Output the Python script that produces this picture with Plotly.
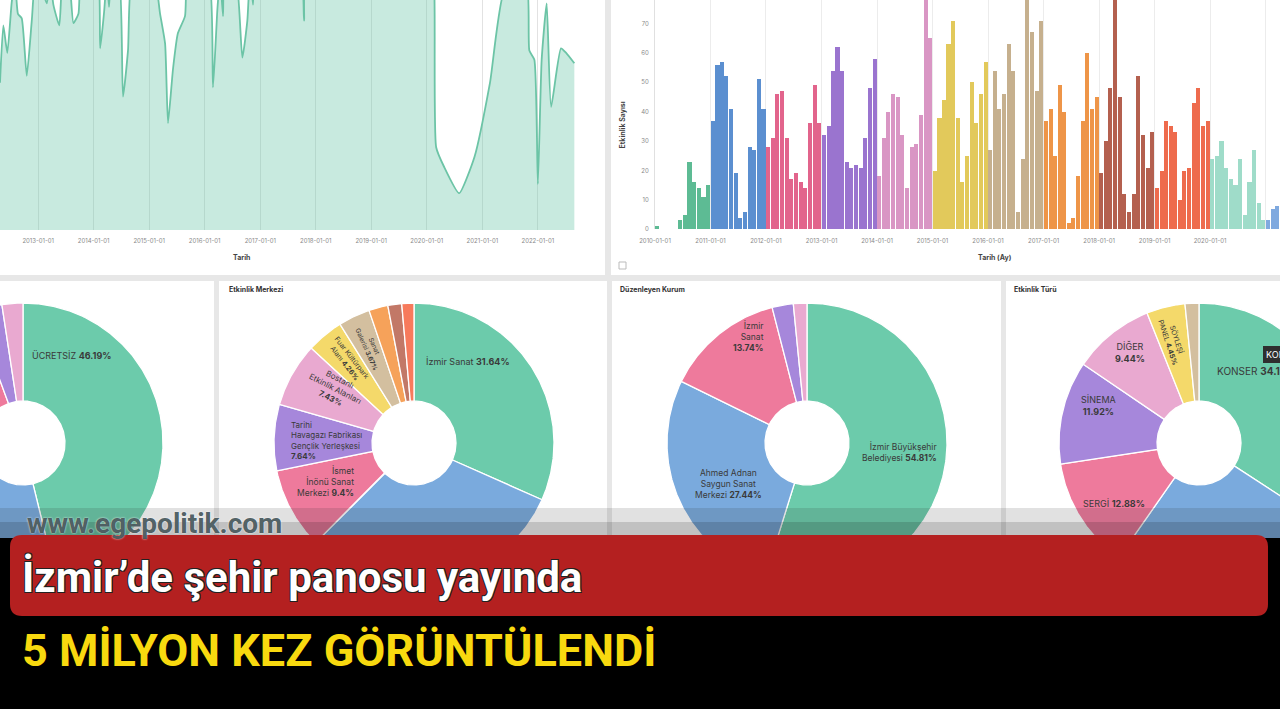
import numpy as np
import pandas as pd
import plotly.graph_objects as go

W, H = 1280, 709

# ---------------- data: area chart (top left) ----------------
AREA_DATES = ["2012-04-25","2012-05-17","2012-06-12","2012-07-11","2012-08-02","2012-08-21","2012-09-15","2012-10-18","2012-11-20","2012-12-18",
              "2013-02-27","2013-03-20","2013-04-11","2013-05-20","2013-06-16","2013-07-17","2013-08-21","2013-09-23","2013-10-17",
              "2014-01-22","2014-02-13","2014-03-11","2014-03-29","2014-04-12","2014-05-01","2014-06-13","2014-07-13","2014-08-15","2014-09-17",
              "2015-01-26","2015-03-14","2015-04-16","2015-05-05","2015-06-07","2015-07-09","2015-08-25","2015-09-16",
              "2016-01-23","2016-02-25","2016-03-25","2016-04-12","2016-05-01","2016-05-15","2016-07-19","2016-09-05","2016-10-08","2016-10-26","2016-11-14","2016-12-05",
              "2017-09-20","2017-10-16","2017-11-11",
              "2020-01-23","2020-02-19","2020-03-03","2020-04-24","2020-08-01","2020-11-11",
              "2021-02-20","2021-05-30","2021-10-16","2021-11-06","2021-12-09",
              "2022-01-01","2022-01-26","2022-02-28","2022-03-29","2022-06-02","2022-07-06","2022-08-29"]
AREA_VALUES = [64, 89, 77, 99, 108, 94, 92, 67, 91, 112,
               98.5, 110, 98, 89, 112, 112, 90, 94, 115,
               115, 79, 95, 110, 97, 112, 112, 58, 78, 112,
               112, 94, 81, 46.5, 70, 85.5, 93, 112,
               112, 62, 96, 110, 93, 112, 112, 75, 91, 112, 98, 115,
               112, 91, 115,
               115, 105, 36, 27.5, 16, 32,
               64, 105, 108, 78, 74,
               20, 74, 98.5, 53.5, 79, 77, 72.5]

# ---------------- data: monthly event counts (top right) ----------------
EVENTS_2010 = [1, 0, 0, 0, 0, 3, 5, 23, 16, 14, 11, 15]
EVENTS_2011 = [37, 56, 57, 52, 41, 19, 4, 6, 28, 27, 51, 41]
EVENTS_2012 = [28, 31, 46, 47, 31, 17, 19, 16, 14, 36, 49, 36]
EVENTS_2013 = [32, 35, 54, 62, 54, 23, 21, 22, 21, 31, 48, 58]
EVENTS_2014 = [18, 31, 40, 46, 45, 32, 14, 28, 29, 39, 96, 65]
EVENTS_2015 = [20, 38, 44, 63, 71, 38, 16, 25, 50, 36, 46, 57]
EVENTS_2016 = [27, 54, 41, 46, 63, 54, 6, 24, 92, 67, 47, 71]
EVENTS_2017 = [37, 41, 25, 49, 40, 2, 4, 18, 37, 60, 41, 45]
EVENTS_2018 = [19, 30, 48, 95, 45, 12, 6, 12, 52, 32, 21, 33]
EVENTS_2019 = [14, 20, 37, 35, 33, 10, 20, 21, 43, 48, 35, 37]
EVENTS_2020 = [24, 25, 30, 21, 17, 15, 24, 5, 16, 27, 9, 3]
EVENTS_2021 = [3, 7, 8]
EVENT_YEARS = [2010, 2011, 2012, 2013, 2014, 2015, 2016, 2017, 2018, 2019, 2020, 2021]
EVENT_SERIES = [EVENTS_2010, EVENTS_2011, EVENTS_2012, EVENTS_2013, EVENTS_2014, EVENTS_2015,
                EVENTS_2016, EVENTS_2017, EVENTS_2018, EVENTS_2019, EVENTS_2020, EVENTS_2021]

# ---------------- data: donuts ----------------
UCRET_LABELS = ["ÜCRETSİZ", "ÜCRETLİ", "BELİRSİZ", "DAVETİYELİ", "DİĞER"]
UCRET_SHARES = [46.19, 38.98, 9.22, 3.20, 2.41]

MERKEZ_LABELS = ["İzmir Sanat", "Ahmed Adnan Saygun Sanat Merkezi", "İsmet<br>İnönü Sanat<br>Merkezi",
                 "Tarihi<br>Havagazı Fabrikası<br>Gençlik Yerleşkesi", "Bostanlı<br>Etkinlik Alanları",
                 "Fuar Kültürpark<br>Alanı", "Sanat<br>Galerisi", "Açıkhava Tiyatrosu", "Alsancak", "Diğer"]
MERKEZ_SHARES = [31.64, 30.76, 9.40, 7.64, 7.43, 4.26, 3.67, 2.20, 1.60, 1.40]

KURUM_LABELS = ["İzmir Büyükşehir<br>Belediyesi", "Ahmed Adnan<br>Saygun Sanat<br>Merkezi", "İzmir<br>Sanat",
                "İzmir Devlet Tiyatrosu", "Diğer"]
KURUM_SHARES = [54.81, 27.44, 13.74, 2.45, 1.56]

TUR_LABELS = ["KONSER", "TİYATRO", "SERGİ", "SİNEMA", "DİĞER", "SÖYLEŞİ<br>PANEL", "ATÖLYE"]
TUR_SHARES = [34.18, 25.53, 12.88, 11.92, 9.44, 4.45, 1.60]

# ---------------- styles ----------------
YEAR_COLORS = ["#5dbb94", "#5b8fd0", "#e2648c", "#9a74cf", "#d996c4", "#e2c95b",
               "#c6b08e", "#ee9548", "#b4604f", "#ee6b4d", "#9fdcc9", "#7fa9df"]
PIE_COLORS = ["#6ccbab", "#7aaadd", "#ee7a9c", "#a687db", "#e9a9d0", "#f4d96a",
              "#d3bf9f", "#f6a25a", "#c27867", "#f77a5c"]
TXT = "#3a3a3a"
FONT = "Inter, Roboto, Arial"

def px(x):
    return x / W

def py(y):
    return 1 - y / H

def pct(v):
    s = f"{v:.2f}".rstrip("0").rstrip(".")
    return s + "%"

fig = go.Figure()

# ---------------- area chart ----------------
fig.add_trace(go.Scatter(
    x=pd.to_datetime(AREA_DATES), y=AREA_VALUES, mode="lines",
    line=dict(color="#6cc4a6", width=1.8, shape="spline", smoothing=0.5),
    fill="tozeroy", fillcolor="rgba(110,200,170,0.38)",
    hoverinfo="skip", xaxis="x", yaxis="y", showlegend=False))

# ---------------- bar chart ----------------
bar_x, bar_y, bar_c = [], [], []
for yr, vals, col in zip(EVENT_YEARS, EVENT_SERIES, YEAR_COLORS):
    for m, v in enumerate(vals):
        bar_x.append(pd.Timestamp(year=yr, month=m + 1, day=1) + pd.Timedelta(days=15))
        bar_y.append(v)
        bar_c.append(col)
fig.add_trace(go.Bar(
    x=bar_x, y=bar_y, marker=dict(color=bar_c, line=dict(width=0)),
    width=[27 * 86400000] * len(bar_x), hoverinfo="skip",
    xaxis="x2", yaxis="y2", showlegend=False))

# ---------------- donuts (pixel overlay axes) ----------------
R_OUT, R_IN = 140, 42

def add_donut(cx, cy, shares):
    total = float(sum(shares))
    a = 0.0
    for i, v in enumerate(shares):
        a0, a1 = a, a + v / total * 360.0
        a = a1
        n = max(3, int(a1 - a0) * 2 + 3)
        th = np.radians(np.linspace(a0, a1, n))
        xo = cx + R_OUT * np.sin(th)
        yo = cy - R_OUT * np.cos(th)
        xi = cx + R_IN * np.sin(th[::-1])
        yi = cy - R_IN * np.cos(th[::-1])
        xs = np.concatenate([xo, xi, xo[:1]])
        ys = np.concatenate([yo, yi, yo[:1]])
        fig.add_trace(go.Scatter(
            x=xs, y=ys, mode="lines", fill="toself",
            fillcolor=PIE_COLORS[i % len(PIE_COLORS)],
            line=dict(color="white", width=1.3),
            hoverinfo="skip", xaxis="x3", yaxis="y3", showlegend=False))

CENTERS = [(23, 443), (414, 443), (807, 443), (1199, 443)]
add_donut(*CENTERS[0], UCRET_SHARES)
add_donut(*CENTERS[1], MERKEZ_SHARES)
add_donut(*CENTERS[2], KURUM_SHARES)
add_donut(*CENTERS[3], TUR_SHARES)

annotations = []

def label(center, names, shares, idx, dx, dy, sep=" ", angle=0, align="center",
          xanchor="center", size=8.5):
    cx, cy = center
    annotations.append(dict(
        x=cx + dx, y=cy + dy, xref="x3", yref="y3", showarrow=False,
        text=f"{names[idx]}{sep}<b>{pct(shares[idx])}</b>", textangle=angle,
        align=align, xanchor=xanchor, yanchor="middle",
        font=dict(family=FONT, size=size, color=TXT)))

# panel 1
label(CENTERS[0], UCRET_LABELS, UCRET_SHARES, 0, 48, -88, size=9)
label(CENTERS[0], UCRET_LABELS, UCRET_SHARES, 1, -45, 88, size=9)
# panel 2
label(CENTERS[1], MERKEZ_LABELS, MERKEZ_SHARES, 0, 54, -82, size=9)
label(CENTERS[1], MERKEZ_LABELS, MERKEZ_SHARES, 2, -89, 38, align="right", size=8.5)
label(CENTERS[1], MERKEZ_LABELS, MERKEZ_SHARES, 3, -88, -3, sep="<br>", align="left", size=8)
label(CENTERS[1], MERKEZ_LABELS, MERKEZ_SHARES, 4, -79, -55, sep="<br>", angle=27, size=8)
label(CENTERS[1], MERKEZ_LABELS, MERKEZ_SHARES, 5, -66, -83, angle=52, size=7)
label(CENTERS[1], MERKEZ_LABELS, MERKEZ_SHARES, 6, -44, -96, angle=66, size=6.5)
# panel 3
label(CENTERS[2], KURUM_LABELS, KURUM_SHARES, 0, 92, 9, align="right", size=8.5)
label(CENTERS[2], KURUM_LABELS, KURUM_SHARES, 1, -79, 41, size=8.5)
label(CENTERS[2], KURUM_LABELS, KURUM_SHARES, 2, -59, -107, sep="<br>", align="right", size=8.5)
# panel 4
label(CENTERS[3], TUR_LABELS, TUR_SHARES, 0, 16, -72, xanchor="left", size=10)
label(CENTERS[3], TUR_LABELS, TUR_SHARES, 4, -69, -91, sep="<br>", size=9)
label(CENTERS[3], TUR_LABELS, TUR_SHARES, 3, -101, -38, sep="<br>", size=9)
label(CENTERS[3], TUR_LABELS, TUR_SHARES, 2, -85, 60, size=9)
label(CENTERS[3], TUR_LABELS, TUR_SHARES, 5, -26, -103, angle=72, size=7)

# tooltip fragment (cut by the right edge, as in the screenshot)
annotations.append(dict(x=1263, y=354, xref="x3", yref="y3", showarrow=False, xanchor="left",
                        text="KONSER", bgcolor="#2f2f2f", bordercolor="#2f2f2f", borderpad=2,
                        font=dict(family=FONT, size=9, color="white")))

# panel titles & axis titles
for t, x, y in [("Etkinlik Merkezi", 227, 289), ("Düzenleyen Kurum", 618, 289), ("Etkinlik Türü", 1012, 289)]:
    annotations.append(dict(x=px(x), y=py(y), xref="paper", yref="paper", showarrow=False,
                            xanchor="left", yanchor="middle", text=f"<b>{t}</b>",
                            font=dict(family=FONT, size=7, color="#333")))
annotations.append(dict(x=px(231), y=py(257), xref="paper", yref="paper", showarrow=False,
                        text="<b>Tarih</b>", font=dict(family=FONT, size=7, color="#444")))
annotations.append(dict(x=px(1014), y=py(257), xref="paper", yref="paper", showarrow=False,
                        text="<b>Tarih (Ay)</b>", font=dict(family=FONT, size=7, color="#444")))
annotations.append(dict(x=px(622), y=py(100), xref="paper", yref="paper", showarrow=False,
                        text="<b>Etkinlik Sayısı</b>", textangle=-90,
                        font=dict(family=FONT, size=7, color="#444")))

# watermark and banner texts
annotations.append(dict(x=px(25), y=py(523), xref="paper", yref="paper", showarrow=False,
                        xanchor="left", yanchor="middle", text="<b>www.egepolitik.com</b>",
                        font=dict(family="Roboto, Arial", size=28, color="rgba(60,78,82,0.9)",
                                  shadow="0px 0px 2px #ffffff")))
annotations.append(dict(x=px(20), y=py(577), xref="paper", yref="paper", showarrow=False,
                        xanchor="left", yanchor="middle", text="<b>İzmir’de şehir panosu yayında</b>",
                        font=dict(family="Roboto, Arial", size=42, color="white",
                                  shadow="1px 1px 0 #222, -1px -1px 0 #222, 1px -1px 0 #222, -1px 1px 0 #222")))
annotations.append(dict(x=px(20), y=py(650), xref="paper", yref="paper", showarrow=False,
                        xanchor="left", yanchor="middle", text="<b>5 MİLYON KEZ GÖRÜNTÜLENDİ</b>",
                        font=dict(family="Roboto, Arial", size=45, color="#f8d90f")))

# ---------------- shapes ----------------
shapes = []

def rect(x0, y0, x1, y1, color, layer="below"):
    shapes.append(dict(type="rect", xref="paper", yref="paper", x0=px(x0), x1=px(x1),
                       y0=py(y1), y1=py(y0), fillcolor=color, line=dict(width=0), layer=layer))

for c in [(-10, -10, 605, 275), (611, -10, 1290, 275), (-10, 281, 214, 720),
          (219, 281, 607, 720), (612, 281, 1001, 720), (1006, 281, 1290, 720)]:
    rect(*c, "white")

# small icon in bar panel
shapes.append(dict(type="rect", xref="paper", yref="paper", x0=px(619), x1=px(626),
                   y0=py(269), y1=py(262), line=dict(color="#bbbbbb", width=1),
                   fillcolor="white", layer="above"))

rect(-10, 508, 1290, 540, "rgba(40,40,40,0.14)", "above")
rect(-10, 522, 1290, 540, "rgba(0,0,0,0.14)", "above")
rect(-10, 538, 1290, 720, "#000000", "above")

# rounded red banner
r = 12
x0b, x1b, y0b, y1b = 10, 1268, 535, 616
pts = [("M", x0b + r, y0b), ("L", x1b - r, y0b), ("Q", x1b, y0b, x1b, y0b + r),
       ("L", x1b, y1b - r), ("Q", x1b, y1b, x1b - r, y1b), ("L", x0b + r, y1b),
       ("Q", x0b, y1b, x0b, y1b - r), ("L", x0b, y0b + r), ("Q", x0b, y0b, x0b + r, y0b)]
path = ""
for p in pts:
    if p[0] == "Q":
        path += f"Q {px(p[1]):.5f},{py(p[2]):.5f} {px(p[3]):.5f},{py(p[4]):.5f} "
    else:
        path += f"{p[0]} {px(p[1]):.5f},{py(p[2]):.5f} "
path += "Z"
shapes.append(dict(type="path", xref="paper", yref="paper", path=path,
                   fillcolor="#b42020", line=dict(width=0), layer="above"))

tickfont = dict(family=FONT, size=6, color="#8a8a8a")
fig.update_layout(
    width=W, height=H, margin=dict(l=0, r=0, t=0, b=0, pad=0, autoexpand=False),
    paper_bgcolor="#e7e7e7", plot_bgcolor="rgba(0,0,0,0)",
    showlegend=False, hovermode=False, bargap=0,
    xaxis=dict(domain=[0, px(590)], type="date", range=["2012-04-25", "2022-12-10"],
               tick0="2013-01-01", dtick="M12", tickformat="%Y-%m-%d", tickfont=tickfont,
               showgrid=True, gridcolor="#e2e2e2", gridwidth=1, zeroline=False,
               showline=False, ticks="", ticklabelstandoff=6, anchor="y",
               fixedrange=True, automargin=False),
    yaxis=dict(domain=[py(230), 1], range=[0, 100], visible=False, anchor="x",
               fixedrange=True, automargin=False),
    xaxis2=dict(domain=[px(655), 1], type="date", range=["2010-01-01", "2021-04-05"],
                tick0="2010-01-01", dtick="M12", tickformat="%Y-%m-%d", tickfont=tickfont,
                showgrid=True, gridcolor="#ececec", gridwidth=1, zeroline=False,
                showline=False, ticks="", ticklabelstandoff=7, anchor="y2",
                fixedrange=True, automargin=False),
    yaxis2=dict(domain=[py(229.3), 1], range=[0, 78], dtick=10, tickfont=tickfont,
                showgrid=False, zeroline=False, showline=True, linecolor="#e0e0e0",
                ticks="", ticklabelstandoff=4, anchor="x2", fixedrange=True, automargin=False),
    xaxis3=dict(domain=[0, 1], range=[0, W], visible=False, anchor="y3",
                fixedrange=True, automargin=False),
    yaxis3=dict(domain=[0, 1], range=[H, 0], visible=False, anchor="x3",
                fixedrange=True, automargin=False),
    annotations=annotations, shapes=shapes,
)

fig.write_html("out.html", config={"displayModeBar": False, "staticPlot": True},
               post_script="document.body.style.margin='0';document.body.style.overflow='hidden';")
